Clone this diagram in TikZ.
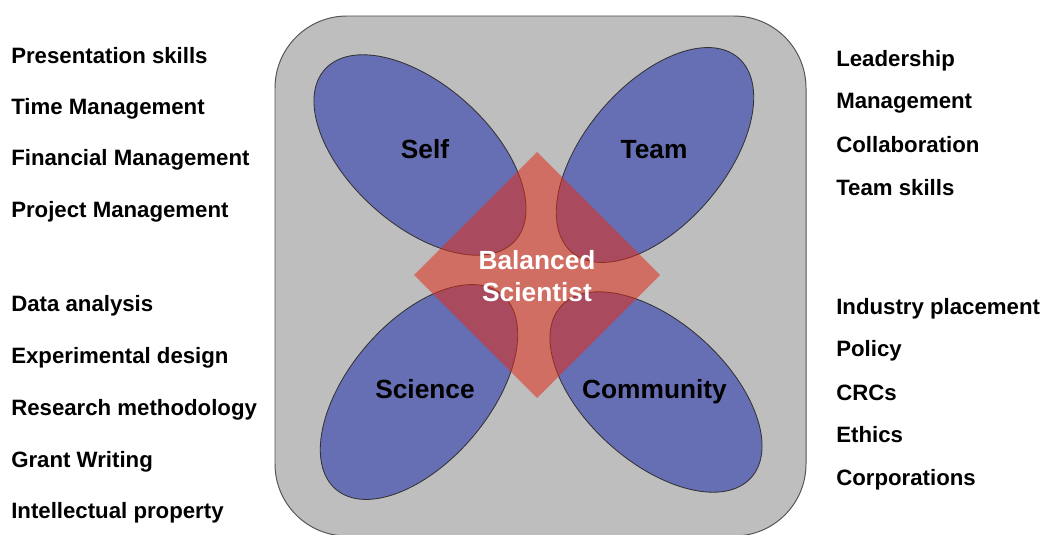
\documentclass[tikz,border=0pt]{standalone}
\usepackage{fontspec}
\setmainfont{Liberation Sans}
\definecolor{boxgrey}{RGB}{190,190,190}
\definecolor{edgegrey}{RGB}{85,85,85}
\definecolor{petalblue}{RGB}{102,110,180}
\definecolor{diamondred}{RGB}{225,45,25}
\tikzstyle{item}=[anchor=base west, inner sep=0, font=\fontsize{15.8}{18}\selectfont\bfseries]
\tikzstyle{petal}=[fill=petalblue, draw=black!80, line width=0.6pt]
\tikzstyle{petallabel}=[anchor=base, inner sep=0, font=\fontsize{18.7}{22.8}\selectfont\bfseries]

\begin{document}
\begin{tikzpicture}[x=0.025cm, y=0.025cm]
    \useasboundingbox (0,0) rectangle (1044,534);
    % grey frame
    \draw [fill=boxgrey, draw=edgegrey, line width=0.7pt, rounded corners=1.8cm] (275,518) rectangle (806,-2);

    % the four petals
    \draw [petal, rotate around={-42:(420,379)}] (420,379) ellipse [x radius=128, y radius=70];
    \draw [petal, rotate around={49.5:(655,379)}] (655,379) ellipse [x radius=128, y radius=70];
    \draw [petal, rotate around={49.5:(419,142)}] (419,142) ellipse [x radius=128, y radius=70];
    \draw [petal, rotate around={-42:(656,142)}] (656,142) ellipse [x radius=128, y radius=70];

    % diamond over the middle
    \fill [diamondred, fill opacity=0.55] (537,382) -- (660,259) -- (537,136) -- (414,259) -- cycle;

    \node [petallabel] (self) at (425,375.6) {Self};
    \node [petallabel] (team) at (654,375.6) {Team};
    \node [petallabel] (science) at (425,136) {Science};
    \node [petallabel] (community) at (654.5,136) {Community};
    \node [align=center, text=white, inner sep=0, font=\fontsize{18.7}{22.8}\selectfont\bfseries] (balanced) at (537,258.2) {Balanced\\Scientist};

    % left column
    \node [item] (present) at (11,470.5) {Presentation skills};
    \node [item] (time) at (11,419.6) {Time Management};
    \node [item] (finance) at (11,368.3) {Financial Management};
    \node [item] (project) at (11,316.3) {Project Management};
    \node [item] (data) at (11,222.5) {Data analysis};
    \node [item] (design) at (11,170.5) {Experimental design};
    \node [item] (method) at (11,118.8) {Research methodology};
    \node [item] (grant) at (11,66.3) {Grant Writing};
    \node [item] (ip) at (11,15.5) {Intellectual property};

    % right column
    \node [item] (lead) at (836,467.1) {Leadership};
    \node [item] (manage) at (836,425.5) {Management};
    \node [item] (collab) at (836,381.6) {Collaboration};
    \node [item] (teamskills) at (836,338.8) {Team skills};
    \node [item] (industry) at (836,219.3) {Industry placement};
    \node [item] (policy) at (836,177.3) {Policy};
    \node [item] (crcs) at (836,133.5) {CRCs};
    \node [item] (ethics) at (836,91.3) {Ethics};
    \node [item] (corp) at (836,48.3) {Corporations};
\end{tikzpicture}
\end{document}
